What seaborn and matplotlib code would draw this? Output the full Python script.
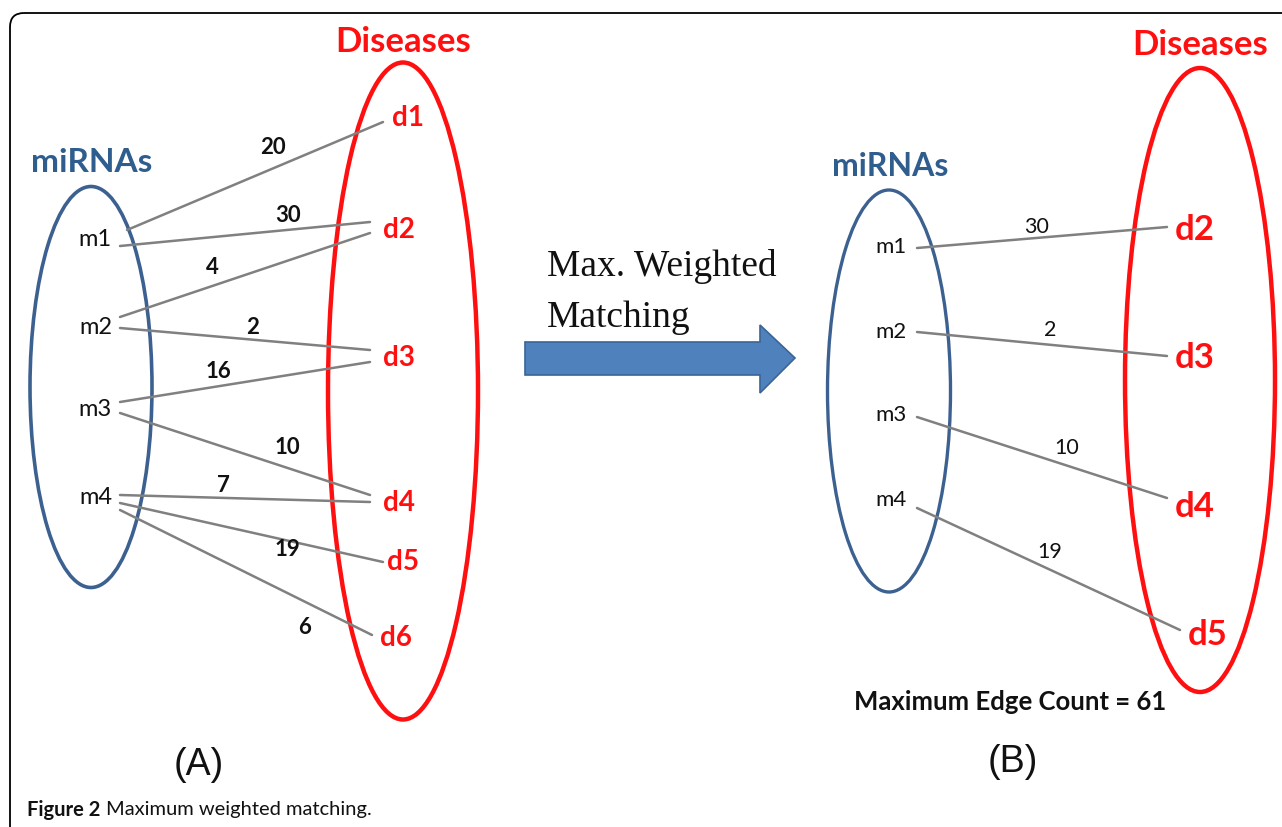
import numpy as np
import pandas as pd
import matplotlib
matplotlib.use("Agg")
import matplotlib.pyplot as plt
import seaborn as sns
from matplotlib.patches import Ellipse, FancyBboxPatch, Polygon

sns.set_theme(style="white")
plt.rcParams['font.family'] = ['Lato', 'DejaVu Sans']

RED = "#FF1010"
BLUE_LINE = "#3C6190"
BLUE_TXT = "#2F5D8E"
EDGE = "#808080"

# ---- panel A: full bipartite graph ----
mirnas = ["m1", "m2", "m3", "m4"]
mirna_y_a = [240, 328, 410, 497]
diseases_a = ["d1", "d2", "d3", "d4", "d5", "d6"]
disease_x_a = [405, 396, 396, 396, 400, 393]
disease_y_a = [118, 230, 358, 503, 562, 638]

edge_src_a = ["m1", "m1", "m2", "m2", "m3", "m3", "m4", "m4", "m4"]
edge_dst_a = ["d1", "d2", "d2", "d3", "d3", "d4", "d4", "d5", "d6"]
weights_a = [20, 30, 4, 2, 16, 10, 7, 19, 6]
start_x_a = [127, 120, 120, 120, 120, 120, 120, 120, 120]
start_y_a = [230, 246, 317, 328, 402, 413, 495, 503, 510]
end_x_a = [383, 370, 370, 370, 370, 370, 370, 383, 372]
end_y_a = [122, 222, 233, 350, 362, 495, 502, 562, 635]
wlab_x_a = [273, 288, 212, 253, 218, 287, 223, 287, 305]
wlab_y_a = [148, 215, 268, 327, 372, 448, 486, 550, 627]

# ---- panel B: maximum weighted matching ----
mirna_y_b = [247, 332, 415, 500]
diseases_b = ["d2", "d3", "d4", "d5"]
disease_x_b = [1195, 1195, 1195, 1208]
disease_y_b = [230, 358, 507, 635]
weights_b = [30, 2, 10, 19]
start_y_b = [248, 332, 417, 508]
end_x_b = [1167, 1167, 1167, 1180]
end_y_b = [227, 356, 498, 630]
wlab_x_b = [1037, 1050, 1067, 1050]
wlab_y_b = [227, 330, 448, 552]

fig = plt.figure(figsize=(12.82, 8.27), dpi=100)
ax = fig.add_axes([0, 0, 1, 1])

# edges via seaborn
rows = []
for i in range(len(weights_a)):
    rows.append(dict(edge=f"a{i}", x=start_x_a[i], y=start_y_a[i]))
    rows.append(dict(edge=f"a{i}", x=end_x_a[i], y=end_y_a[i]))
for i in range(len(weights_b)):
    rows.append(dict(edge=f"b{i}", x=917, y=start_y_b[i]))
    rows.append(dict(edge=f"b{i}", x=end_x_b[i], y=end_y_b[i]))
edges = pd.DataFrame(rows)
sns.lineplot(data=edges, x="x", y="y", units="edge", estimator=None,
             color=EDGE, lw=1.8, ax=ax, zorder=2)

ax.set_xlim(0, 1282)
ax.set_ylim(827, 0)
ax.axis("off")

# ellipses
ax.add_patch(Ellipse((91, 387), 122, 401, fill=False, ec=BLUE_LINE, lw=2.6, zorder=1))
ax.add_patch(Ellipse((403, 391), 150, 657, fill=False, ec=RED, lw=3.2, zorder=1))
ax.add_patch(Ellipse((889, 391), 123, 402, fill=False, ec=BLUE_LINE, lw=2.4, zorder=1))
ax.add_patch(Ellipse((1200, 380), 150, 624, fill=False, ec=RED, lw=3.2, zorder=1))

# headings
ax.text(92, 162, "miRNAs", color=BLUE_TXT, fontsize=24, fontweight="bold", ha="center", va="center")
ax.text(403, 42, "Diseases", color=RED, fontsize=25, fontweight="bold", ha="center", va="center")
ax.text(890, 167, "miRNAs", color=BLUE_TXT, fontsize=23, fontweight="bold", ha="center", va="center")
ax.text(1200, 45, "Diseases", color=RED, fontsize=25, fontweight="bold", ha="center", va="center")

# node labels
for name, y in zip(mirnas, mirna_y_a):
    ax.text(112, y, name, fontsize=17, ha="right", va="center", color="#111111")
for name, x, y in zip(diseases_a, disease_x_a, disease_y_a):
    ax.text(x + 3, y, name, fontsize=20, fontweight="bold", color=RED, ha="center", va="center")
for name, y in zip(mirnas, mirna_y_b):
    ax.text(907, y, name, fontsize=16, ha="right", va="center", color="#111111")
for name, x, y in zip(diseases_b, disease_x_b, disease_y_b):
    ax.text(x, y, name, fontsize=25, fontweight="bold", color=RED, ha="center", va="center")

# weights
for w, x, y in zip(weights_a, wlab_x_a, wlab_y_a):
    ax.text(x, y, str(w), fontsize=16, fontweight="bold", ha="center", va="center", color="#111111")
for w, x, y in zip(weights_b, wlab_x_b, wlab_y_b):
    ax.text(x, y, str(w), fontsize=15.5, ha="center", va="center", color="#111111")

# arrow + label
ax.add_patch(Polygon([(525, 342), (760, 342), (760, 325), (795, 358),
                      (760, 393), (760, 375), (525, 375)],
                     closed=True, fc="#4F81BD", ec="#3A6596", lw=1.2, zorder=3))
ax.text(547, 267, "Max. Weighted", family="Liberation Serif", fontsize=27, ha="left", va="center", color="#111111")
ax.text(547, 318, "Matching", family="Liberation Serif", fontsize=27, ha="left", va="center", color="#111111")

ax.text(1010, 702, "Maximum Edge Count = 61", fontsize=18.5, fontweight="bold", ha="center", va="center", color="#111111")

ax.text(199, 765, "(A)", family="Liberation Sans", fontsize=27, ha="center", va="center", color="#111111")
ax.text(1013, 762, "(B)", family="Liberation Sans", fontsize=27, ha="center", va="center", color="#111111")

# frame
ax.add_patch(FancyBboxPatch((10, 13), 1500, 1000, boxstyle="round,pad=0,rounding_size=14",
                            fill=False, ec="black", lw=1.3, zorder=0))

# caption
t1 = ax.text(27, 810, "Figure 2", fontsize=14.5, fontweight="bold", ha="left", va="center", color="#111111")
fig.canvas.draw()
bb = t1.get_window_extent().transformed(ax.transData.inverted())
ax.text(bb.x1 + 6, 810, "Maximum weighted matching.", fontsize=14.5, ha="left", va="center", color="#111111")

fig.savefig("out.png", dpi=100)
